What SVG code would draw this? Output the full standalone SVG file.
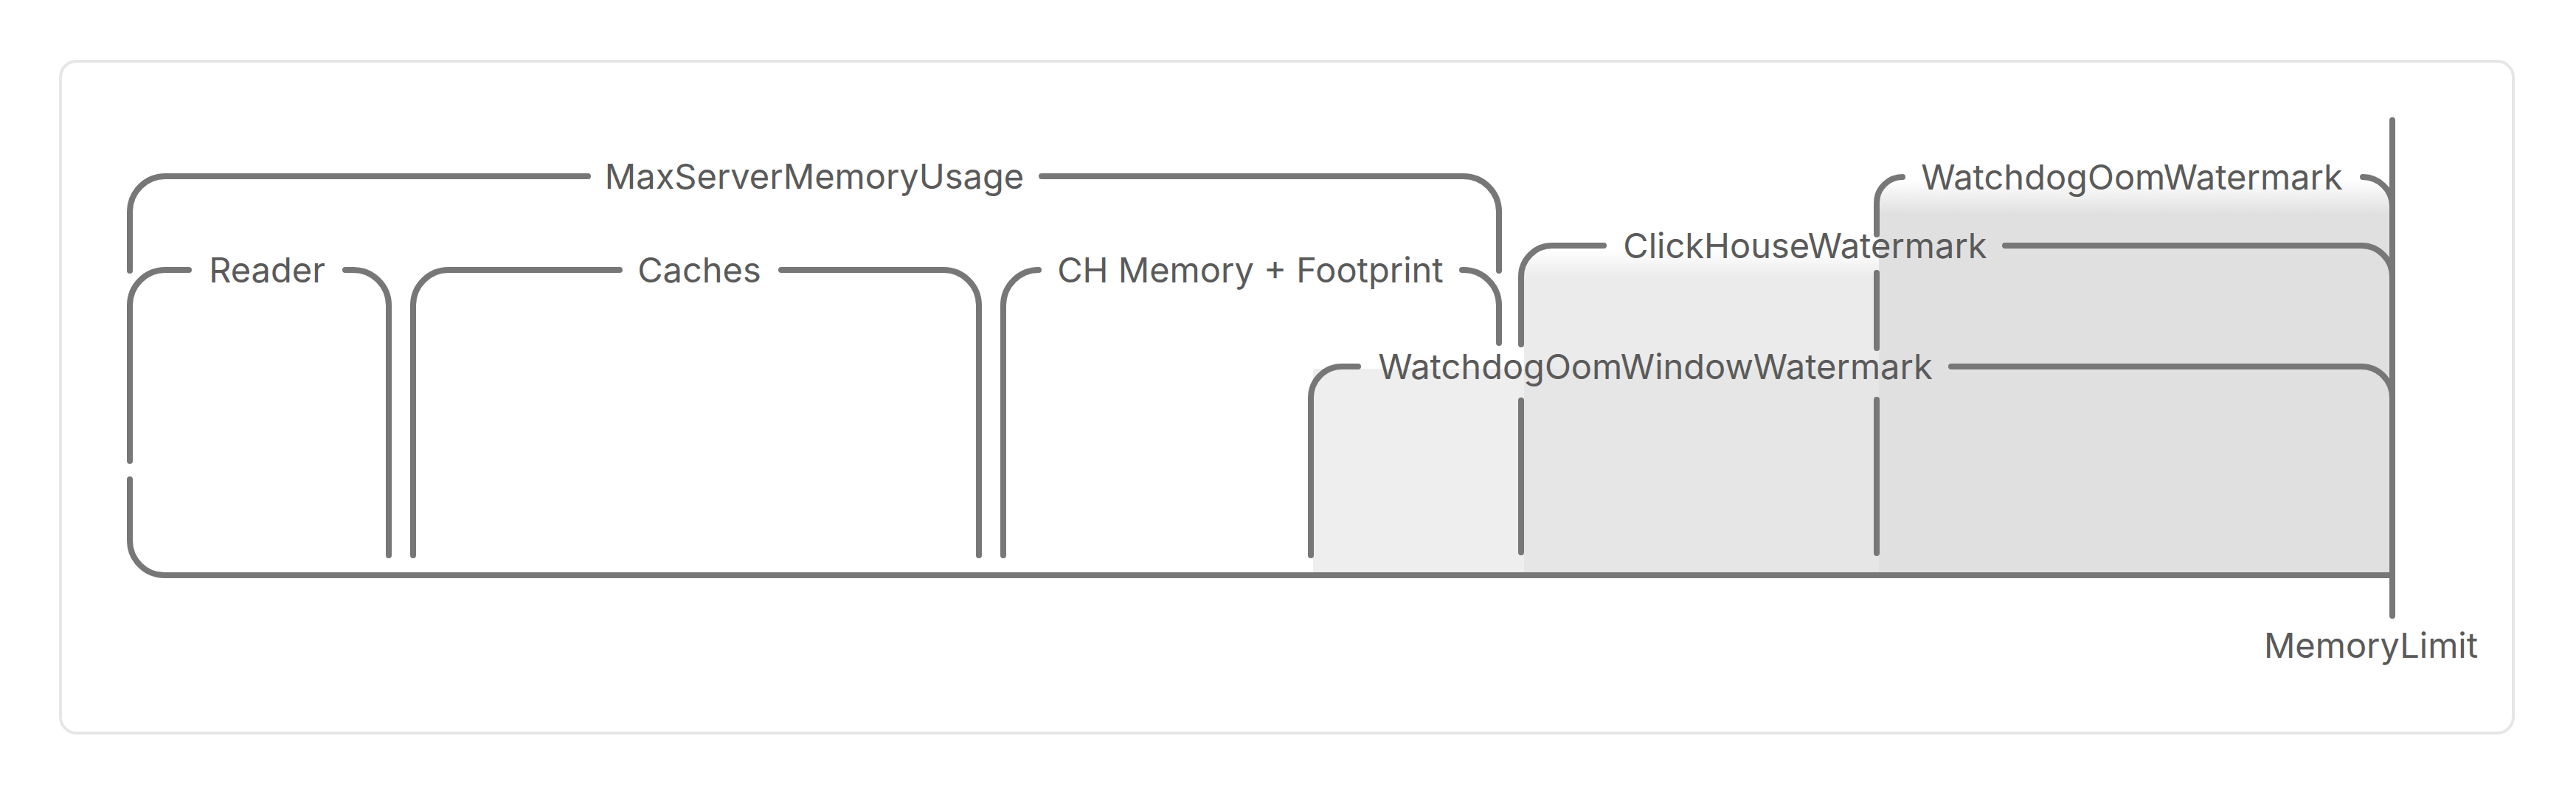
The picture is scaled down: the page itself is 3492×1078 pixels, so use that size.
<svg xmlns="http://www.w3.org/2000/svg" width="3492" height="1078" viewBox="0 0 3492 1078">
  <style>
    .ln { fill: none; stroke: #777777; stroke-width: 8; stroke-linecap: round; stroke-linejoin: round; }
    .lbl { font-family: Inter, "Noto Sans", "Liberation Sans", sans-serif; font-size: 47px; fill: #5a5a5a; text-anchor: middle; }
  </style>
  <defs>
    <linearGradient id="gCH" gradientUnits="userSpaceOnUse" x1="0" y1="338" x2="0" y2="378">
      <stop offset="0" stop-color="#ffffff"/>
      <stop offset="1" stop-color="#ebebeb"/>
    </linearGradient>
    <linearGradient id="gWD" gradientUnits="userSpaceOnUse" x1="0" y1="243" x2="0" y2="290">
      <stop offset="0" stop-color="#ffffff"/>
      <stop offset="1" stop-color="#e0e0e0"/>
    </linearGradient>
  </defs>

  <rect x="0" y="0" width="3492" height="1078" fill="#ffffff"/>
  <rect id="frame" x="82" y="83" width="3325" height="911" rx="22" ry="22" fill="#ffffff" stroke="#e6e6e6" stroke-width="4"/>

  <g id="fills">
    <rect x="1780" y="500" width="1463" height="280" fill="#eeeeee"/>
    <rect x="2066" y="338" width="1177" height="442" fill="url(#gCH)"/>
    <rect x="2066" y="500" width="1177" height="280" fill="#e6e6e6"/>
    <path d="M2547,243 H3243 V780 H2547 Z" fill="url(#gWD)"/>
  </g>

  <g id="max-server-memory-usage">
    <path class="ln" d="M176,367 V287 A48,48 0 0 1 224,239 H797"/>
    <path class="ln" d="M1412,239 H1984 A48,48 0 0 1 2032,287 V367"/>
    <text class="lbl" x="1104" y="256">MaxServerMemoryUsage</text>
  </g>

  <g id="reader">
    <path class="ln" d="M176,625 V414 A48,48 0 0 1 224,366 H256"/>
    <path class="ln" d="M468,366 H479 A48,48 0 0 1 527,414 V753"/>
    <text class="lbl" x="362" y="383">Reader</text>
  </g>

  <g id="caches">
    <path class="ln" d="M560,753 V414 A48,48 0 0 1 608,366 H840"/>
    <path class="ln" d="M1059,366 H1279 A48,48 0 0 1 1327,414 V753"/>
    <text class="lbl" x="948" y="383">Caches</text>
  </g>

  <g id="ch-memory-footprint">
    <path class="ln" d="M1360,753 V414 A48,48 0 0 1 1408,366"/>
    <path class="ln" d="M1982,366 H1984 A48,48 0 0 1 2032,414 V465"/>
    <text class="lbl" x="1695" y="383">CH Memory + Footprint</text>
  </g>

  <g id="watchdog-oom-window-watermark">
    <path class="ln" d="M1777,753 V539 A42,42 0 0 1 1819,497 H1841"/>
    <path class="ln" d="M2645,497 H3201 A42,42 0 0 1 3243,539"/>
    <text class="lbl" x="2244" y="514">WatchdogOomWindowWatermark</text>
  </g>

  <g id="clickhouse-watermark">
    <path class="ln" d="M2062,467 V375 A42,42 0 0 1 2104,333 H2174"/>
    <path class="ln" d="M2062,543 V749"/>
    <path class="ln" d="M2718,333 H3201 A42,42 0 0 1 3243,375"/>
    <text class="lbl" x="2447" y="350">ClickHouseWatermark</text>
  </g>

  <g id="watchdog-oom-watermark">
    <path class="ln" d="M2544,318 V275 A35,35 0 0 1 2579,240"/>
    <path class="ln" d="M2544,370 V472"/>
    <path class="ln" d="M2544,542 V750"/>
    <path class="ln" d="M3203,240 A40,40 0 0 1 3243,280"/>
    <text class="lbl" x="2890" y="257">WatchdogOomWatermark</text>
  </g>

  <g id="memory-limit">
    <text class="lbl" x="3214" y="892">MemoryLimit</text>
  </g>

  <g id="connectors">
    <path class="ln" d="M176,650 V733 A47,47 0 0 0 223,780 H3243"/>
    <path class="ln" d="M3243,163 V835"/>
  </g>
</svg>
